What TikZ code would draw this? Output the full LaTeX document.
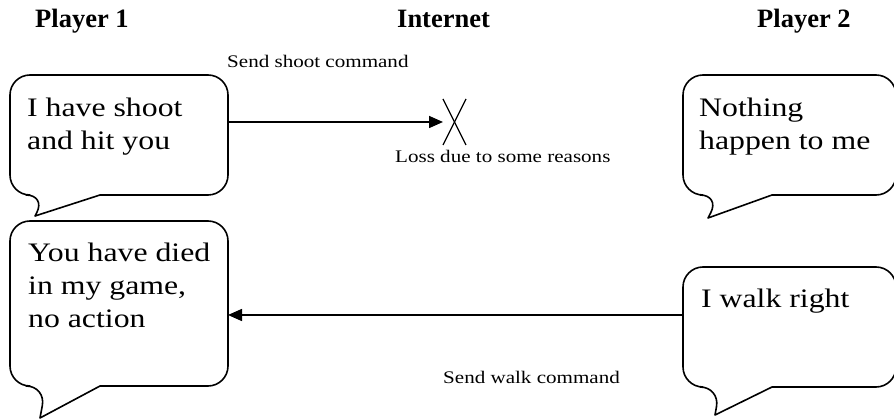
\documentclass[tikz,border=0pt]{standalone}
\usepackage{fontspec}
\setmainfont{Liberation Serif}
\newfontfamily\widefont[FakeStretch=1.19]{Liberation Serif}
\usetikzlibrary{arrows.meta}

\tikzset{
  bubble/.style={draw=black, line width=1.6pt, line join=round, fill=white},
  header/.style={anchor=base west, inner sep=0pt, font=\fontsize{26.5}{30}\selectfont\bfseries},
  speech/.style={anchor=base west, inner sep=0pt, font=\widefont\fontsize{26.7}{33}\selectfont},
  note/.style={anchor=base west, inner sep=0pt, font=\widefont\fontsize{17.7}{21}\selectfont},
  msg/.style={line width=1.6pt, -{Triangle[length=14pt,width=12pt]}},
  cross/.style={line width=1.3pt}
}

% a rounded speech bubble with its tail hanging from the bottom edge
% #1 left, #2 top, #3 right, #4 bottom, #5 tail start x, #6 tail tip, #7 tail end x
\newcommand{\speechbubble}[7]{%
  \draw[bubble] (#7,#4) [rounded corners=20pt] -- (#3,#4) -- (#3,#2) -- (#1,#2)
    -- (#1,#4) -- (#5,#4) [sharp corners] -- #6 -- cycle;
}

\begin{document}
\begin{tikzpicture}[x=1pt,y=-1pt]
  \useasboundingbox (0,0) rectangle (894,419);
  \clip (0,0) rectangle (894,419);

  % column titles
  \node[header] (p1) at (35,28) {Player 1};
  \node[header] (net) at (397,28) {Internet};
  \node[header] (p2) at (757,28) {Player 2};

  % speech bubbles
  \speechbubble{10}{75}{228}{195}{46}{(35,216)}{100}
  \speechbubble{10}{221}{228}{386}{46}{(40,418)}{100}
  \speechbubble{683}{75}{896}{195}{720}{(708,218)}{772}
  \speechbubble{683}{267}{896}{387}{720}{(715,415)}{772}

  \node[speech] (hit) at (27,117)
    {\begin{tabular}[t]{@{}l@{}}I have shoot\\and hit you\end{tabular}};
  \node[speech] (died) at (28,262)
    {\begin{tabular}[t]{@{}l@{}}You have died\\in my game,\\no action\end{tabular}};
  \node[speech] (nothing) at (699,117)
    {\begin{tabular}[t]{@{}l@{}}Nothing\\happen to me\end{tabular}};
  \node[speech] (walk) at (701,308) {I walk right};

  % attachment points on the bubbles and the lost packet
  \coordinate (shootFrom) at (228,122);
  \coordinate (lostAt) at (443,122);
  \coordinate (walkFrom) at (683,315);
  \coordinate (walkTo) at (228,315);

  % shoot command, lost on the way
  \draw[msg] (shootFrom) -- (lostAt);
  \coordinate (xa) at (443,99);
  \coordinate (xb) at (466,145);
  \coordinate (xc) at (466,99);
  \coordinate (xd) at (443,145);
  \draw[cross] (xa) -- (xb);
  \draw[cross] (xc) -- (xd);

  % walk command, delivered
  \draw[msg] (walkFrom) -- (walkTo);

  % labels
  \node[note] (sendShoot) at (227,68) {Send shoot command};
  \node[note] (loss) at (395,163) {Loss due to some reasons};
  \node[note] (sendWalk) at (443,384) {Send walk command};
\end{tikzpicture}
\end{document}
